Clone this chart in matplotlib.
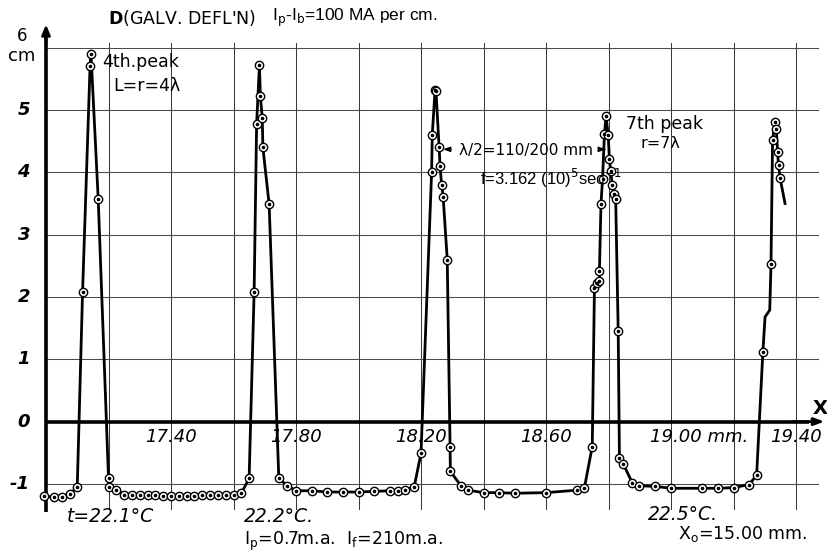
import matplotlib
matplotlib.use("Agg")
import matplotlib.pyplot as plt
import numpy as np

# ---------------- data ----------------
# measured points, in drawing order along the curve (x in mm, D in cm)
x_pts = [16.994, 17.024, 17.050, 17.077, 17.100, 17.117, 17.141, 17.144, 17.167,
         17.200, 17.200, 17.225, 17.250, 17.275, 17.300, 17.325, 17.350, 17.375,
         17.400, 17.425, 17.450, 17.475, 17.500, 17.525, 17.550, 17.575, 17.600,
         17.625, 17.650, 17.666, 17.674, 17.683, 17.686, 17.692, 17.694, 17.714,
         17.745, 17.772, 17.800, 17.850, 17.900, 17.950, 18.000, 18.050, 18.100,
         18.125, 18.150, 18.178, 18.200, 18.234, 18.236, 18.245, 18.248, 18.258,
         18.261, 18.266, 18.271, 18.284, 18.293, 18.294, 18.328, 18.350, 18.400,
         18.450, 18.500, 18.600, 18.700, 18.723, 18.748, 18.755, 18.763, 18.771,
         18.771, 18.776, 18.781, 18.787, 18.792, 18.799, 18.803, 18.807, 18.812,
         18.818, 18.823, 18.831, 18.835, 18.847, 18.876, 18.898, 18.950, 19.000,
         19.100, 19.150, 19.200, 19.250, 19.274, 19.294, 19.320, 19.325, 19.333,
         19.337, 19.341, 19.344, 19.349]
d_pts = [-1.20, -1.21, -1.21, -1.16, -1.05, 2.08, 5.71, 5.90, 3.58,
         -0.91, -1.05, -1.09, -1.17, -1.18, -1.18, -1.18, -1.18, -1.19,
         -1.19, -1.19, -1.19, -1.19, -1.18, -1.18, -1.18, -1.18, -1.18,
         -1.15, -0.91, 2.08, 4.78, 5.72, 5.22, 4.88, 4.40, 3.49,
         -0.91, -1.03, -1.11, -1.11, -1.13, -1.13, -1.13, -1.12, -1.11,
         -1.11, -1.10, -1.05, -0.51, 4.01, 4.60, 5.32, 5.30, 4.40,
         4.10, 3.80, 3.60, 2.60, -0.40, -0.80, -1.03, -1.10, -1.14,
         -1.14, -1.15, -1.14, -1.10, -1.06, -0.40, 2.14, 2.22, 2.25,
         2.42, 3.50, 3.90, 4.61, 4.91, 4.60, 4.21, 4.02, 3.80,
         3.66, 3.57, 1.46, -0.58, -0.68, -0.98, -1.03, -1.04, -1.07,
         -1.07, -1.07, -1.06, -1.01, -0.86, 1.12, 2.53, 4.52, 4.81,
         4.70, 4.33, 4.12, 3.91]

# line-only vertices (kinks / tips drawn without a measured point)
kink_after = {95: [(19.301, 1.68), (19.316, 1.79)]}
tail_x = [19.365]
tail_d = [3.50]

x_ticks = [17.40, 17.80, 18.20, 18.60, 19.00, 19.40]
x_tick_labels = ["17.40", "17.80", "18.20", "18.60", "19.00 mm.", "19.40"]
y_ticks = [-1, 0, 1, 2, 3, 4, 5]
grid_x = [17.2, 17.4, 17.6, 17.8, 18.0, 18.2, 18.4, 18.6, 18.8, 19.0, 19.2, 19.4]
grid_y = [-1, 1, 2, 3, 4, 5, 6]

# ---------------- figure ----------------
W, H = 827, 556
fig = plt.figure(figsize=(W / 100, H / 100), dpi=100)
ax = fig.add_axes([0, 0, 1, 1])
ax.set_xlim(16.8528, 19.4992)
ax.set_ylim(-2.157, 6.767)
ax.axis("off")

FONT = "DejaVu Sans"
NARROW = ["Liberation Sans Narrow", "Liberation Sans", "DejaVu Sans"]

def fx(p):
    return p / W

def fy(p):
    return 1 - p / H

# grid
x0 = 17.0
y0 = -1.40
for gx in grid_x:
    ax.plot([gx, gx], [y0, 6.08], color="#3a3a3a", lw=0.75, zorder=1)
for gy in grid_y:
    ax.plot([x0, 19.47], [gy, gy], color="#4a4a4a", lw=0.75, zorder=1)

# axes with arrows
ax.plot([x0, x0], [-1.45, 6.25], color="black", lw=2.6, zorder=2, solid_capstyle="butt")
ax.annotate("", xy=(x0, 6.42), xytext=(x0, 6.0),
            arrowprops=dict(arrowstyle="-|>,head_length=0.6,head_width=0.25",
                            color="black", lw=2.0), zorder=3)
ax.plot([x0, 19.44], [0, 0], color="black", lw=2.6, zorder=2, solid_capstyle="butt")
ax.annotate("", xy=(19.50, 0), xytext=(19.38, 0),
            arrowprops=dict(arrowstyle="-|>,head_length=0.6,head_width=0.22",
                            color="black", lw=2.0), zorder=3)

# curve
lx, ly = [], []
for i, (a, b) in enumerate(zip(x_pts, d_pts)):
    lx.append(a)
    ly.append(b)
    for (ka, kb) in kink_after.get(i, []):
        lx.append(ka)
        ly.append(kb)
lx += tail_x
ly += tail_d
ax.plot(lx, ly, color="black", lw=2.0, zorder=4, solid_joinstyle="round")
ax.plot(x_pts, d_pts, linestyle="none", marker="o", ms=6.0, mfc="white",
        mec="black", mew=1.0, zorder=5)
ax.plot(x_pts, d_pts, linestyle="none", marker="o", ms=1.6, mfc="black",
        mec="black", zorder=6)

# tick labels
for v in y_ticks:
    fig.text(fx(30), fy(421.6 - v * 62.3), str(v), ha="right", va="center",
             fontsize=13, fontstyle="italic", fontweight="bold", family=FONT)
fig.text(fx(22), fy(45), "6", ha="center", va="bottom", fontsize=12, family=FONT)
fig.text(fx(22), fy(47), "cm", ha="center", va="top", fontsize=13, family=FONT)
for v, lab in zip(x_ticks, x_tick_labels):
    xpix = 421 + (v - 18.2) * 312.5
    if lab.endswith("mm."):
        fig.text(fx(xpix - 21), fy(437), lab, ha="left", va="center",
                 fontsize=13, fontstyle="italic", family=FONT)
    else:
        fig.text(fx(xpix), fy(437), lab, ha="center", va="center",
                 fontsize=13, fontstyle="italic", family=FONT)
fig.text(fx(820), fy(408), "X", ha="center", va="center", fontsize=14,
         fontweight="bold", family=FONT)

# header
fig.text(fx(108), fy(18), r"$\mathbf{D}$(GALV. DEFL'N)", ha="left", va="center",
         fontsize=12.5, family=FONT)
fig.text(fx(272), fy(18), r"I$_\mathrm{p}$-I$_\mathrm{b}$=100 MA per cm.",
         ha="left", va="center", fontsize=12.5, family=NARROW)

# annotations
fig.text(fx(102), fy(62), "4th.peak", ha="left", va="center", fontsize=12.5, family=FONT)
fig.text(fx(113), fy(86), "L=r=4λ", ha="left", va="center", fontsize=12.5, family=FONT)
fig.text(fx(626), fy(124), "7th peak", ha="left", va="center", fontsize=12.5, family=FONT)
fig.text(fx(640), fy(144), "r=7λ", ha="left", va="center", fontsize=11.5, family=FONT)
fig.text(fx(459), fy(150), "λ/2=110/200 mm", ha="left", va="center",
         fontsize=11, family=FONT)
ax.annotate("", xy=(18.262, 4.37), xytext=(18.305, 4.37),
            arrowprops=dict(arrowstyle="-|>,head_length=0.4,head_width=0.15",
                            color="black", lw=1.0))
ax.annotate("", xy=(18.800, 4.37), xytext=(18.778, 4.37),
            arrowprops=dict(arrowstyle="-|>,head_length=0.4,head_width=0.15",
                            color="black", lw=1.0))
fig.text(fx(480), fy(178), r"f=3.162 (10)$^{5}$sec$^{-1}$", ha="left", va="center",
         fontsize=12, family=NARROW)
fig.text(fx(67), fy(517), "t=22.1°C", ha="left", va="center", fontsize=13.5,
         fontstyle="italic", family=FONT)
fig.text(fx(244), fy(516), "22.2°C.", ha="left", va="center", fontsize=13.5,
         fontstyle="italic", family=FONT)
fig.text(fx(244), fy(541), r"I$_\mathrm{p}$=0.7m.a.  I$_\mathrm{f}$=210m.a.",
         ha="left", va="center", fontsize=12.5, family=FONT)
fig.text(fx(648), fy(514), "22.5°C.", ha="left", va="center", fontsize=13.5,
         fontstyle="italic", family=FONT)
fig.text(fx(678), fy(534), r"X$_\mathrm{o}$=15.00 mm.", ha="left", va="center",
         fontsize=12.5, family=FONT)

fig.savefig("out.png", dpi=100)
